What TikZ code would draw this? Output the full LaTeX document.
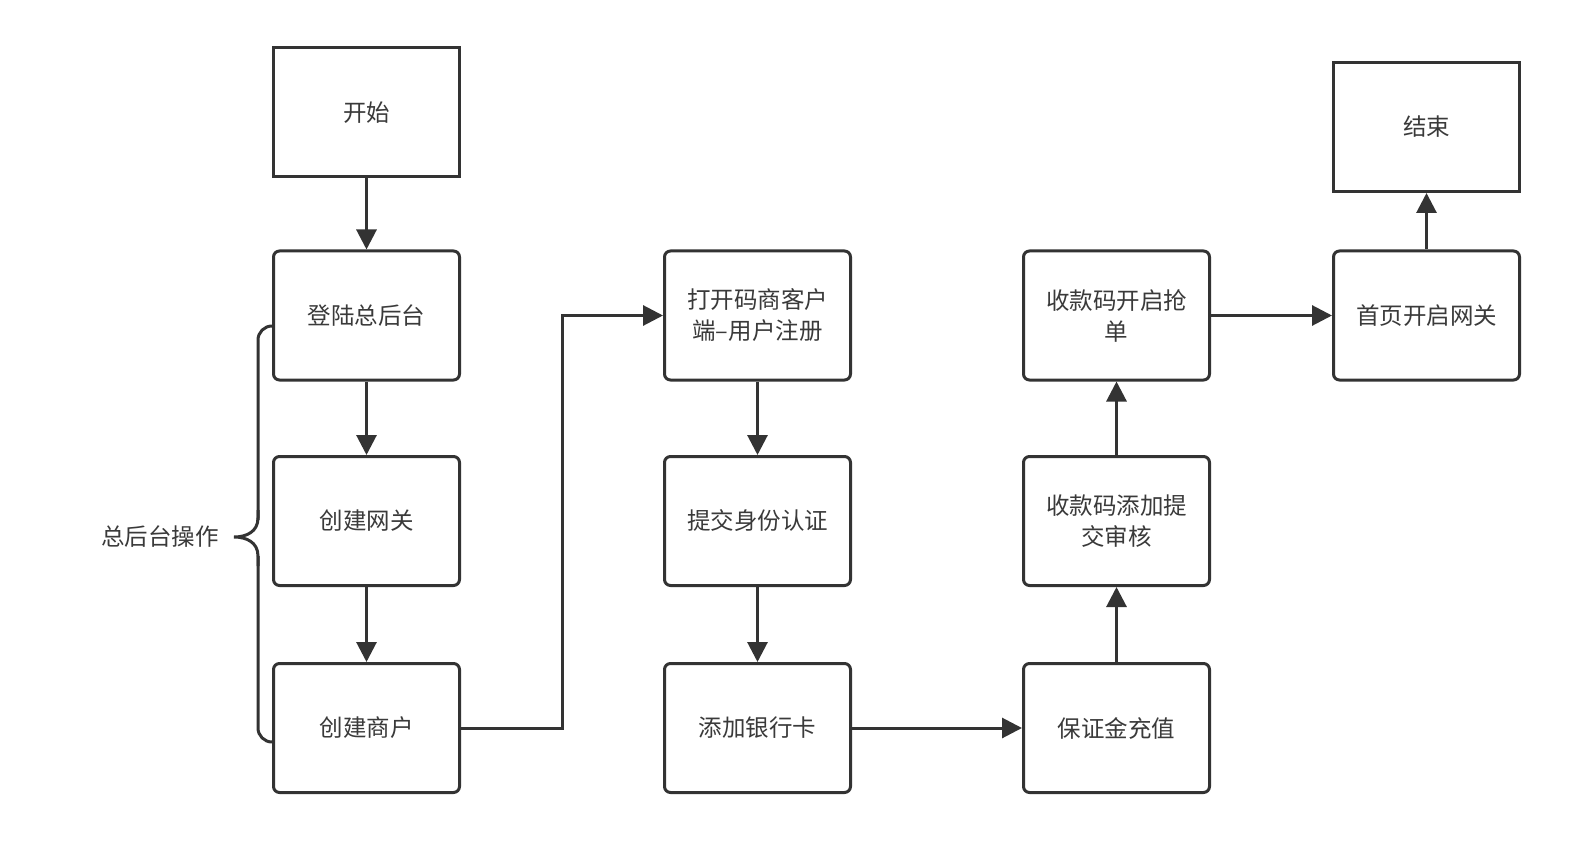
\documentclass[tikz,border=0pt]{standalone}
\usepackage{fontspec}
\setmainfont{Noto Sans CJK SC}
\usetikzlibrary{arrows.meta}
\definecolor{ln}{HTML}{333333}
\definecolor{tx}{HTML}{3a3a3a}
\tikzset{
  box/.style={draw=ln, line width=3pt, fill=white, minimum width=186pt, minimum height=129pt, inner sep=0pt, align=center, text=tx, font=\fontsize{23.5pt}{31pt}\selectfont, text width=160pt},
  rbox/.style={box, rounded corners=6pt},
  conn/.style={draw=ln, line width=3pt, -{Triangle[length=20pt,width=20pt]}},
}
\begin{document}
\begin{tikzpicture}[x=1pt,y=-1pt]
\useasboundingbox (0,0) rectangle (1584,850);
\node[box] (start) at (366.5,112.5) {开始};
\node[rbox] (login) at (366.5,315.5) {登陆总后台};
\node[rbox] (gw) at (366.5,521) {创建网关};
\node[rbox] (merch) at (366.5,728) {创建商户};
\node[rbox] (open) at (757.5,315.5) {打开码商客户\\端–用户注册};
\node[rbox] (id) at (757.5,521) {提交身份认证};
\node[rbox] (bank) at (757.5,728) {添加银行卡};
\node[rbox] (dep) at (1116.5,728) {保证金充值};
\node[rbox] (qr) at (1116.5,521) {收款码添加提\\交审核};
\node[rbox] (grab) at (1116.5,315.5) {收款码开启抢\\单};
\node[rbox] (home) at (1426.5,315.5) {首页开启网关};
\node[box] (end) at (1426.5,127) {结束};
\node[text=tx, font=\fontsize{23.5pt}{31pt}\selectfont] (lbl) at (160,537) {总后台操作};

\draw[conn] (start) -- (login);
\draw[conn] (login) -- (gw);
\draw[conn] (gw) -- (merch);
\draw[conn] (merch.east) -- (562,728) |- (open.west);
\draw[conn] (open) -- (id);
\draw[conn] (id) -- (bank);
\draw[conn] (bank) -- (dep);
\draw[conn] (dep) -- (qr);
\draw[conn] (qr) -- (grab);
\draw[conn] (grab) -- (home);
\draw[conn] (home) -- (end);

\draw[ln, line width=3pt, rounded corners=14pt] (272,326) -- (258,326) -- (258,520);
\draw[ln, line width=3pt] (258,510) -- (258,518) .. controls (258,532) and (246,537) .. (234,537)
  .. controls (246,537) and (258,542) .. (258,556) -- (258,566);
\draw[ln, line width=3pt, rounded corners=14pt] (258,556) -- (258,742) -- (272,742);
\end{tikzpicture}
\end{document}
